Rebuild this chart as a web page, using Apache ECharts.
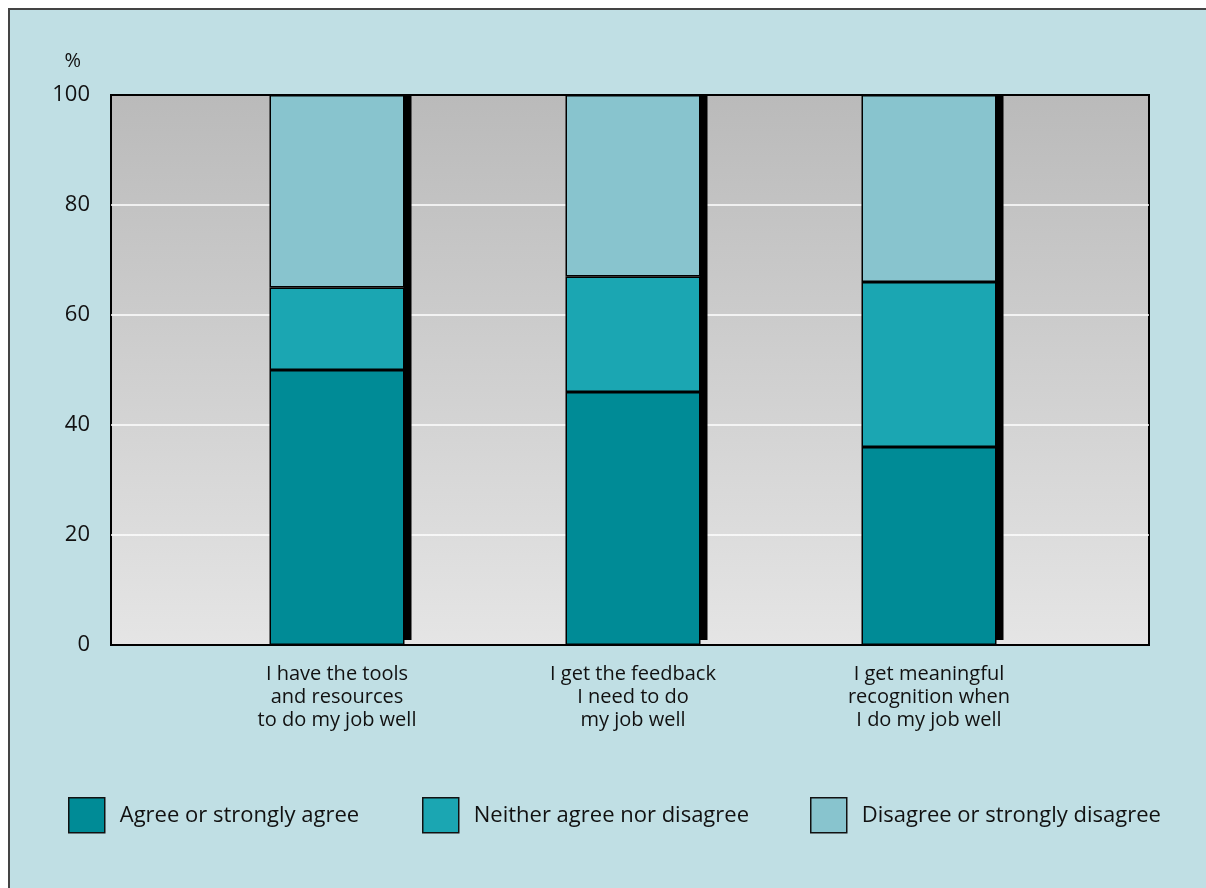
<!DOCTYPE html>
<html>
<head>
<meta charset="utf-8">
<script src="https://cdn.jsdelivr.net/npm/echarts@6/dist/echarts.min.js"></script>
<style>
  html, body { margin: 0; padding: 0; background: #ffffff; }
  #frame { position: absolute; left: 8px; top: 8px; width: 1198px; height: 880px;
           background: #c0dfe4; border-left: 2px solid #444; border-top: 2px solid #444; box-sizing: border-box; }
  #chart { position: absolute; left: 0; top: 0; width: 1206px; height: 888px; }
</style>
</head>
<body>
<div id="frame"></div>
<div id="chart"></div>
<script>
const categories = [
  'I have the tools\nand resources\nto do my job well',
  'I get the feedback\nI need to do\nmy job well',
  'I get meaningful\nrecognition when\nI do my job well'
];
const seriesNames = ['Agree or strongly agree', 'Neither agree nor disagree', 'Disagree or strongly disagree'];
const agree = [50, 46, 36];
const neither = [15, 21, 30];
const disagree = [35, 33, 34];
const yTicks = { min: 0, max: 100, interval: 20 };
const colors = ['#008b96', '#1ba6b2', '#88c4ce'];

const FONT = 'Open Sans';
const BAR_W = 135;
const totals = categories.map((c, i) => agree[i] + neither[i] + disagree[i]);

const chart = echarts.init(document.getElementById('chart'), null, { renderer: 'canvas' });

function barSeries(name, data, color) {
  return {
    name: name,
    type: 'bar',
    stack: 'total',
    xAxisIndex: 1,
    yAxisIndex: 1,
    barWidth: BAR_W,
    data: data,
    silent: true,
    z: 3,
    itemStyle: { color: color, borderColor: '#000', borderWidth: 1.5 }
  };
}

// solid black drop shadow running down the right side of each stacked column
const shadowSeries = {
  type: 'custom',
  xAxisIndex: 1,
  yAxisIndex: 1,
  silent: true,
  z: 2,
  data: totals.map((t, i) => [i, t]),
  renderItem: function (params, api) {
    const top = api.coord([api.value(0), api.value(1)]);
    const base = api.coord([api.value(0), 0]);
    return {
      type: 'rect',
      shape: { x: top[0] + BAR_W / 2 - 1, y: top[1], width: 8, height: base[1] - top[1] - 5 },
      style: { fill: '#000' }
    };
  }
};

function legendAt(i, left) {
  return {
    data: [seriesNames[i]],
    left: left,
    top: 797,
    padding: 0,
    itemWidth: 36,
    itemHeight: 35,
    icon: 'rect',
    selectedMode: false,
    itemStyle: { borderColor: '#111', borderWidth: 1.5 },
    textStyle: { fontFamily: FONT, fontSize: 22, color: '#111', padding: [2, 0, 0, 10] }
  };
}

chart.setOption({
  animation: false,
  backgroundColor: 'transparent',
  grid: [
    {
      left: 111, top: 95, width: 1038, height: 550,
      show: true,
      borderColor: '#000',
      borderWidth: 2,
      backgroundColor: new echarts.graphic.LinearGradient(0, 0, 0, 1, [
        { offset: 0, color: '#bababa' },
        { offset: 1, color: '#e5e5e5' }
      ])
    },
    { left: 189, top: 95, width: 888, height: 550 }
  ],
  xAxis: [
    { gridIndex: 0, type: 'value', show: false, min: 0, max: 1 },
    {
      gridIndex: 1,
      type: 'category',
      data: categories,
      axisLine: { show: false },
      axisTick: { show: false },
      axisLabel: { fontFamily: FONT, fontSize: 20, lineHeight: 23, color: '#111', margin: 18 }
    }
  ],
  yAxis: [
    {
      gridIndex: 0,
      type: 'value',
      min: yTicks.min, max: yTicks.max, interval: yTicks.interval,
      name: '%',
      nameLocation: 'end',
      nameGap: 24,
      nameTextStyle: { fontFamily: FONT, fontSize: 20, color: '#111', align: 'right', padding: [0, 30, 0, 0] },
      axisLine: { show: false },
      axisTick: { show: false },
      axisLabel: { fontFamily: FONT, fontSize: 22, color: '#111', margin: 21, padding: [5, 0, 0, 0] },
      splitLine: { showMinLine: false, showMaxLine: false, lineStyle: { color: '#ffffff', width: 1.5 } }
    },
    {
      gridIndex: 1,
      type: 'value',
      min: yTicks.min, max: yTicks.max,
      show: false,
      splitLine: { show: false }
    }
  ],
  legend: [legendAt(0, 68), legendAt(1, 422), legendAt(2, 810)],
  series: [
    shadowSeries,
    barSeries(seriesNames[0], agree, colors[0]),
    barSeries(seriesNames[1], neither, colors[1]),
    barSeries(seriesNames[2], disagree, colors[2])
  ]
});
</script>
</body>
</html>
